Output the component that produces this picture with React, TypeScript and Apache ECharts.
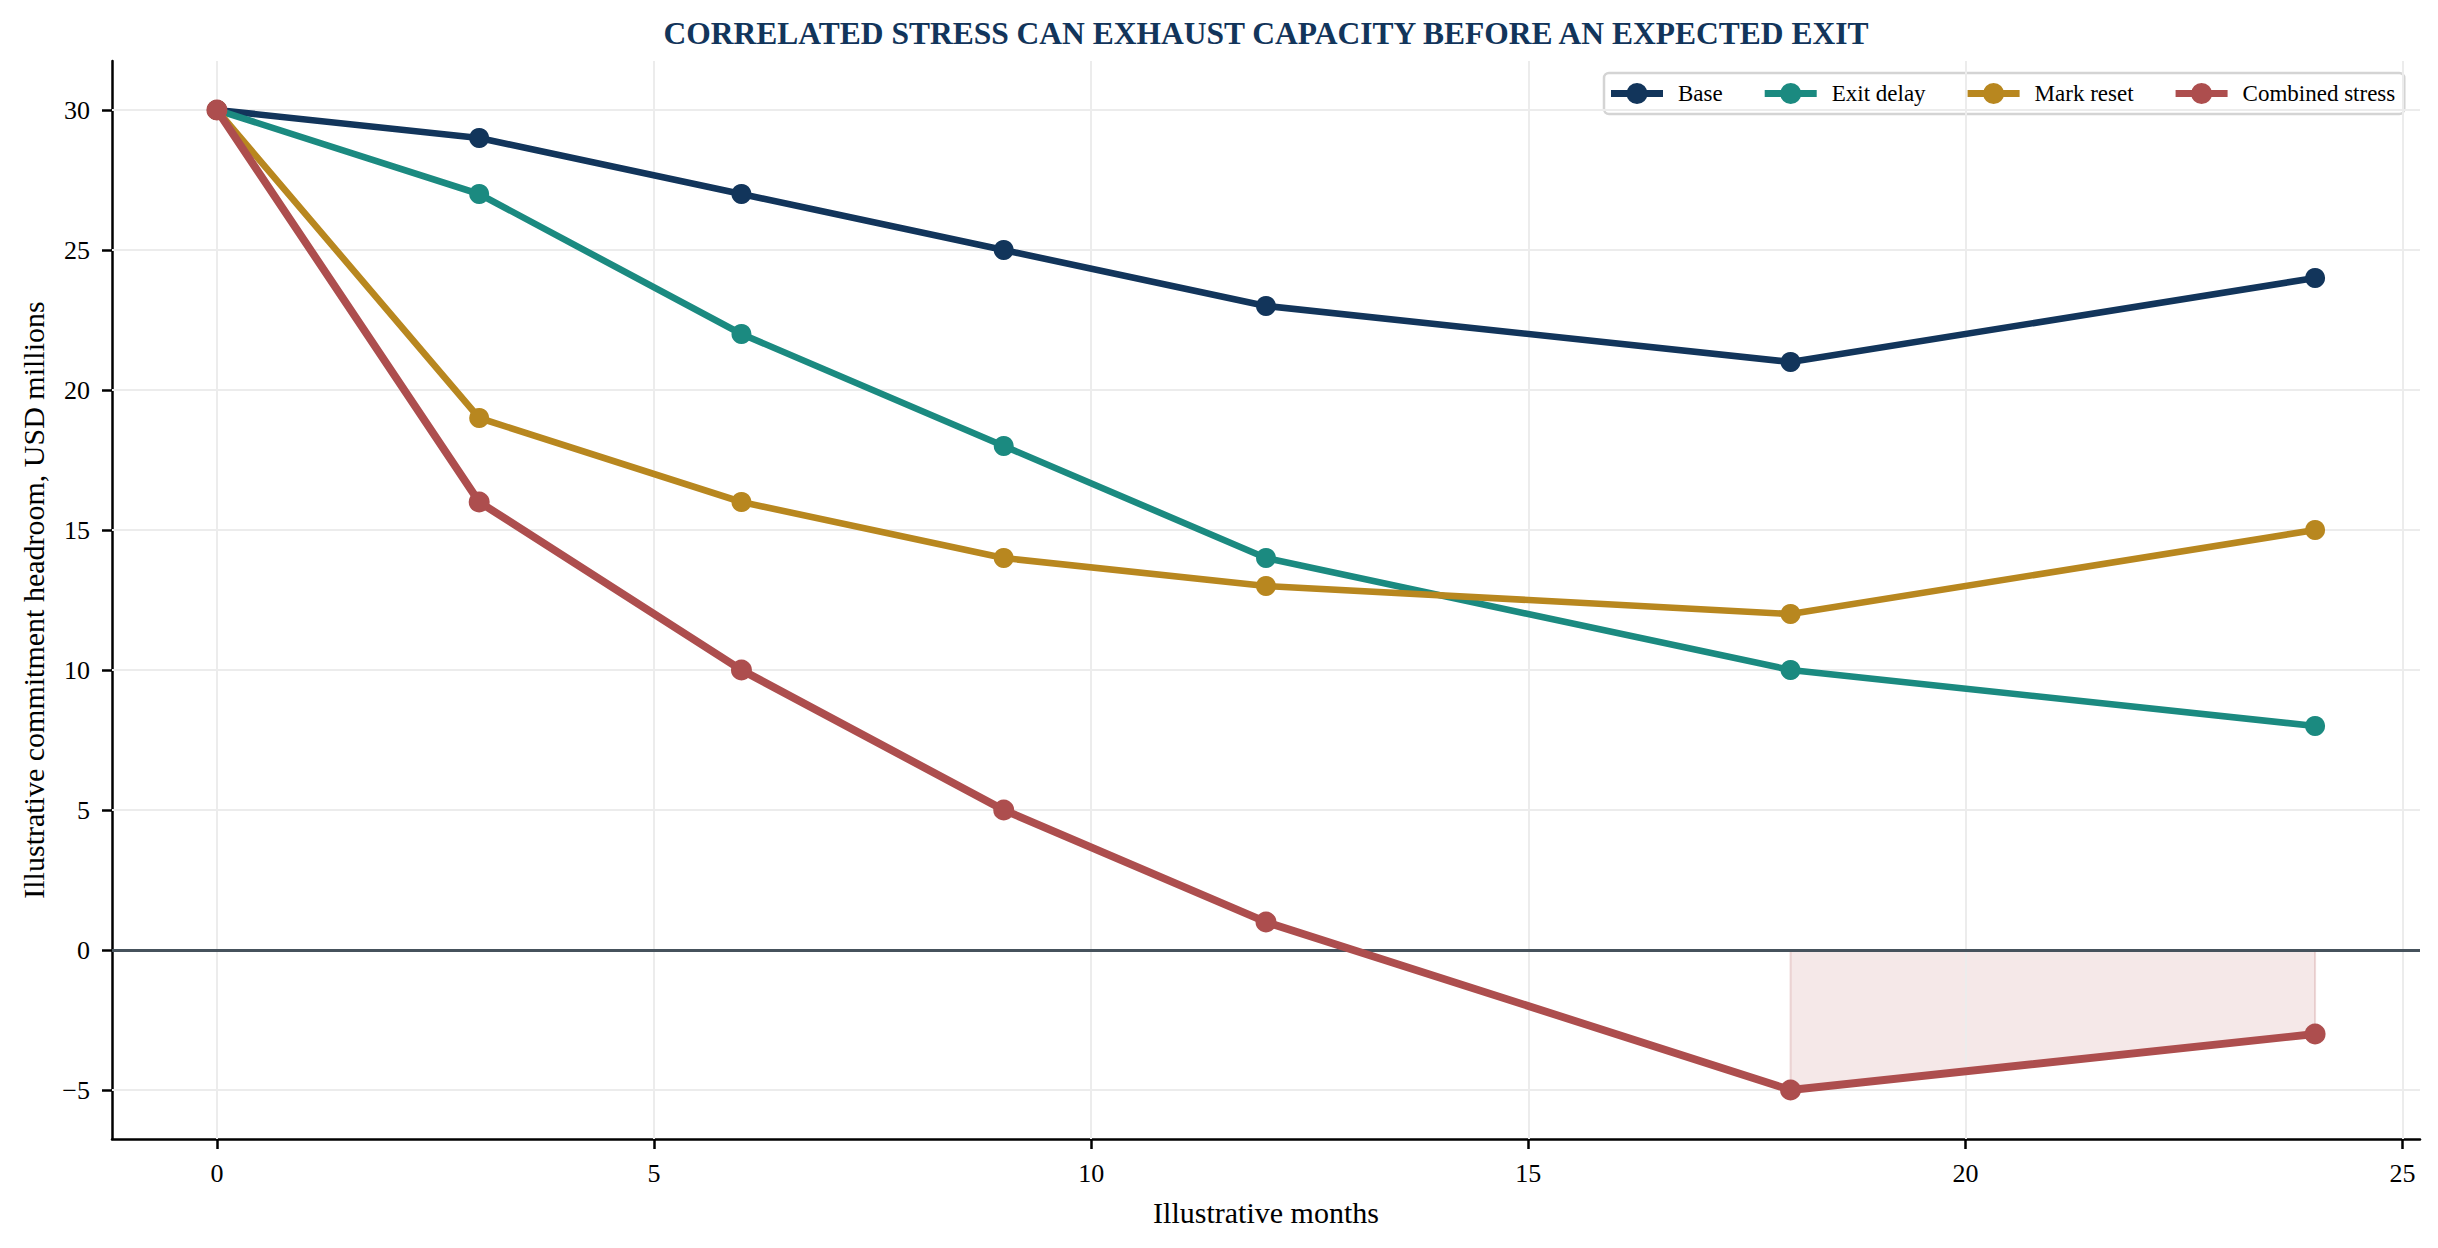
import React, { useEffect, useRef } from "react";
import * as echarts from "echarts";

const months = [0, 3, 6, 9, 12, 18, 24];
const baseValues = [30, 29, 27, 25, 23, 21, 24];
const exitDelayValues = [30, 27, 22, 18, 14, 10, 8];
const markResetValues = [30, 19, 16, 14, 13, 12, 15];
const combinedValues = [30, 16, 10, 5, 1, -5, -3];

const shortfallMonths = [18, 24];
const shortfallValues = [-5, -3];

const xTicks = [0, 5, 10, 15, 20, 25];
const yTicks = [-5, 0, 5, 10, 15, 20, 25, 30];

const seriesNames = ["Base", "Exit delay", "Mark reset", "Combined stress"];
const seriesColors = ["#12355b", "#1b8a80", "#b8871f", "#ad4e4e"];

const FONT = "'Liberation Serif', 'Times New Roman', 'DejaVu Serif', serif";
const LEGEND_ICON =
  "path://M0,7 L52,7 L52,14 L0,14 Z M15.5,10.5 A10.5,10.5 0 1 1 36.5,10.5 A10.5,10.5 0 1 1 15.5,10.5 Z";

const pair = (xs: number[], ys: number[]) => xs.map((x, i) => [x, ys[i]]);

export default function App() {
  const ref = useRef<HTMLDivElement>(null);

  useEffect(() => {
    if (!ref.current) return;
    const chart = echarts.init(ref.current, null, { renderer: "svg" });

    const valueSets = [baseValues, exitDelayValues, markResetValues, combinedValues];

    const lineSeries = valueSets.map((vals, i) => ({
      name: seriesNames[i],
      type: "line",
      data: pair(months, vals),
      symbol: "circle",
      symbolSize: i === 3 ? 21 : 20,
      showSymbol: true,
      z: 5 + i,
      lineStyle: { color: seriesColors[i], width: i === 3 ? 7.8 : 6.6 },
      itemStyle: { color: seriesColors[i], borderWidth: 0 },
      emphasis: { disabled: true },
      silent: true,
    }));

    const option: any = {
      animation: false,
      backgroundColor: "#ffffff",
      textStyle: { fontFamily: FONT },
      graphic: [
        {
          type: "text",
          x: 1266,
          y: 33,
          style: {
            text: "CORRELATED STRESS CAN EXHAUST CAPACITY BEFORE AN EXPECTED EXIT",
            fill: "#12355b",
            font: `bold 31.5px ${FONT}`,
            textAlign: "center",
            textVerticalAlign: "middle",
          },
        },
      ],
      legend: {
        data: seriesNames.map((n) => ({ name: n, icon: LEGEND_ICON })),
        left: 1604,
        top: 73,
        orient: "horizontal",
        itemWidth: 52,
        itemHeight: 21,
        itemGap: 42,
        padding: [9, 9, 9, 7],
        borderColor: "#d4d4d4",
        borderWidth: 2.5,
        borderRadius: 5,
        backgroundColor: "rgba(255,255,255,0.9)",
        itemStyle: { borderWidth: 0 },
        textStyle: {
          fontFamily: FONT,
          fontSize: 23,
          color: "#000",
          padding: [0, 0, 0, 10],
        },
        selectedMode: false,
      },
      grid: { left: 112, top: 61, width: 2308, height: 1078 },
      xAxis: {
        type: "value",
        min: -1.2,
        max: 25.2,
        name: "Illustrative months",
        nameLocation: "middle",
        nameGap: 58,
        nameTextStyle: { fontFamily: FONT, fontSize: 30, color: "#000" },
        axisLine: { show: true, onZero: false, lineStyle: { color: "#000", width: 2.5 } },
        axisTick: { show: true, length: 10, lineStyle: { color: "#000", width: 2.5 }, customValues: xTicks },
        axisLabel: {
          customValues: xTicks,
          fontFamily: FONT,
          fontSize: 26,
          color: "#000",
          margin: 21,
        },
        splitLine: { show: false },
      },
      yAxis: {
        type: "value",
        min: -6.75,
        max: 31.75,
        name: "Illustrative commitment headroom, USD millions",
        nameLocation: "middle",
        nameGap: 64,
        nameRotate: 90,
        nameTextStyle: { fontFamily: FONT, fontSize: 30, color: "#000" },
        axisLine: { show: true, onZero: false, lineStyle: { color: "#000", width: 2.5 } },
        axisTick: { show: true, length: 10, lineStyle: { color: "#000", width: 2.5 }, customValues: yTicks },
        axisLabel: {
          customValues: yTicks,
          fontFamily: FONT,
          fontSize: 26,
          color: "#000",
          margin: 22,
          formatter: (v: number) => String(v).replace("-", "\u2212"),
        },
        splitLine: { show: false },
      },
      series: [
        {
          type: "line",
          data: [],
          z: 0,
          silent: true,
          markLine: {
            silent: true,
            symbol: ["none", "none"],
            label: { show: false },
            animation: false,
            lineStyle: { color: "#ececec", width: 2, type: "solid" },
            emphasis: { disabled: true },
            data: [
              ...xTicks.map((x) => ({ xAxis: x })),
              ...yTicks.map((y) => ({ yAxis: y })),
            ],
          },
        },
        {
          type: "custom",
          z: 1,
          silent: true,
          data: [[shortfallMonths[0], shortfallValues[0]]],
          renderItem: (params: any, api: any) => {
            const pts: number[][] = [];
            pts.push(api.coord([shortfallMonths[0], 0]));
            shortfallMonths.forEach((m, i) => pts.push(api.coord([m, shortfallValues[i]])));
            pts.push(api.coord([shortfallMonths[shortfallMonths.length - 1], 0]));
            return {
              type: "polygon",
              shape: { points: pts },
              style: {
                fill: "rgba(176,78,78,0.13)",
                stroke: "rgba(176,78,78,0.2)",
                lineWidth: 2,
              },
            };
          },
        },
        {
          type: "line",
          data: [],
          z: 2,
          silent: true,
          markLine: {
            silent: true,
            symbol: ["none", "none"],
            label: { show: false },
            animation: false,
            lineStyle: { color: "#46525c", width: 3, type: "solid" },
            emphasis: { disabled: true },
            data: [{ yAxis: 0 }],
          },
        },
        ...lineSeries,
      ],
    };

    chart.setOption(option);
    return () => chart.dispose();
  }, []);

  return (
    <div
      ref={ref}
      style={{ position: "absolute", left: 0, top: 0, width: "2438px", height: "1248px" }}
    />
  );
}
